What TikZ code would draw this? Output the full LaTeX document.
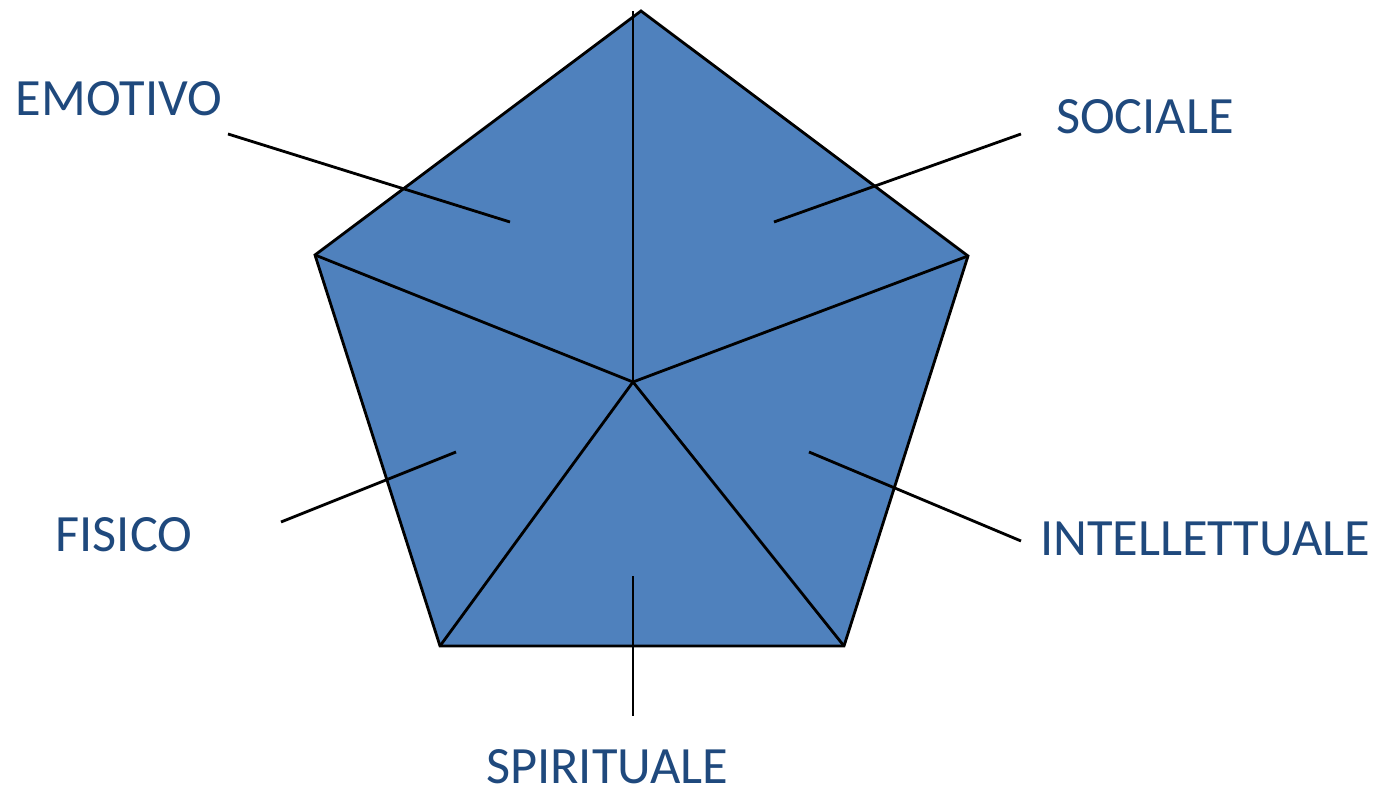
\documentclass[tikz,border=0pt]{standalone}
\usepackage{fontspec}
\setmainfont{Carlito}
\usetikzlibrary{positioning}
\definecolor{petal}{RGB}{79,129,189}
\definecolor{labelblue}{RGB}{31,73,125}
\tikzset{
  area/.style={fill=petal, draw=black, line width=0.8pt, line join=miter},
  spoke/.style={draw=black, line width=0.8pt},
  leader/.style={draw=black, line width=0.8pt},
  dim/.style={font=\fontsize{14.9}{17}\selectfont, text=labelblue, inner sep=0pt},
}
\begin{document}
\begin{tikzpicture}[x=0.01cm, y=-0.01cm]
\useasboundingbox (0,0) rectangle (1375,789);

% corners of the pentagon and the centre
\coordinate (top) at (641,11);
\coordinate (right) at (968,256);
\coordinate (lowright) at (844,646);
\coordinate (lowleft) at (440,646);
\coordinate (left) at (315,255);
\coordinate (centre) at (633,382);
\coordinate (spiketop) at (633,11);

\draw[area] (top) -- (right) -- (lowright) -- (lowleft) -- (left) -- cycle;

% spokes
\draw[spoke] (centre) -- (spiketop);
\draw[spoke] (centre) -- (right);
\draw[spoke] (centre) -- (lowright);
\draw[spoke] (centre) -- (lowleft);
\draw[spoke] (centre) -- (left);

% labels
\node[dim] (emotivo) at (119,99) {EMOTIVO};
\node[dim] (sociale) at (1145,117) {SOCIALE};
\node[dim] (fisico) at (124,535) {FISICO};
\node[dim] (intell) at (1205,539) {INTELLETTUALE};
\node[dim] (spirit) at (607,767) {SPIRITUALE};

% leader ends inside the sectors
\coordinate (emotivoA) at (228,134);
\coordinate (emotivoB) at (510,222);
\coordinate (socialeA) at (1021,134);
\coordinate (socialeB) at (774,222);
\coordinate (fisicoA) at (281,522);
\coordinate (fisicoB) at (456,452);
\coordinate (intellA) at (1021,541);
\coordinate (intellB) at (809,452);
\coordinate (spiritA) at (633,716);
\coordinate (spiritB) at (633,576);

\draw[leader] (emotivoA) -- (emotivoB);
\draw[leader] (socialeA) -- (socialeB);
\draw[leader] (fisicoA) -- (fisicoB);
\draw[leader] (intellA) -- (intellB);
\draw[leader] (spiritA) -- (spiritB);

\end{tikzpicture}
\end{document}
